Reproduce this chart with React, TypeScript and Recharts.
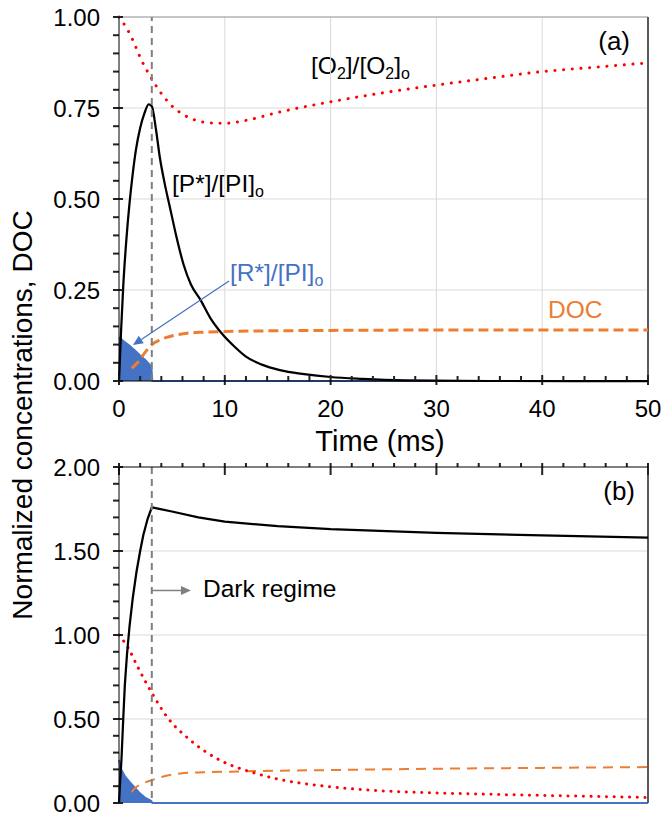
import React from 'react';
import { ComposedChart, Line, Area, XAxis, YAxis, CartesianGrid, ReferenceLine } from 'recharts';

// ---- panel (a) ----
const aPT = [0, 0.2, 0.4, 0.7, 1.0, 1.3, 1.6, 2.0, 2.4, 2.8, 3.1, 3.5, 3.85, 4.3, 4.8, 5.4, 6.1, 6.8, 7.7, 8.7, 9.7, 11, 12, 13.5, 15.2, 17.5, 20, 23, 27, 35, 50];
const aPV = [0, 0.14, 0.26, 0.39, 0.49, 0.57, 0.635, 0.695, 0.735, 0.76, 0.755, 0.69, 0.616, 0.545, 0.479, 0.4, 0.32, 0.265, 0.223, 0.17, 0.131, 0.092, 0.067, 0.045, 0.03, 0.019, 0.011, 0.006, 0.002, 0, 0];

const aOT = [0, 0.33, 1, 2.2, 3.1, 4, 5.1, 6.2, 7.4, 8.6, 10, 12, 15.2, 20, 25, 30, 35, 40, 45, 50];
const aOV = [1.0, 0.987, 0.955, 0.877, 0.83, 0.79, 0.753, 0.73, 0.715, 0.709, 0.708, 0.716, 0.739, 0.767, 0.792, 0.813, 0.832, 0.85, 0.862, 0.874];

// DOC is hidden under the R* fill near t = 0, so only the visible part is listed
const aDT = [1.2, 1.8, 2.5, 3.1, 3.8, 4.5, 5.5, 6.7, 8, 10, 15, 20, 30, 40, 50];
const aDV = [0.035, 0.052, 0.08, 0.1, 0.112, 0.12, 0.127, 0.132, 0.134, 0.136, 0.138, 0.139, 0.14, 0.14, 0.14];

const aRT = [0, 0.5, 1, 1.5, 2, 2.5, 3.05, 3.15, 50];
const aRV = [0.12, 0.108, 0.097, 0.084, 0.07, 0.057, 0.04, 0, 0];

// ---- panel (b) ----
const bPT = [0, 0.1, 0.23, 0.4, 0.55, 0.75, 1.0, 1.3, 1.65, 2.0, 2.3, 2.7, 3.1, 5, 7.5, 10, 15, 20, 30, 40, 50];
const bPV = [0, 0.12, 0.256, 0.5, 0.7, 0.88, 1.055, 1.22, 1.375, 1.5, 1.595, 1.69, 1.76, 1.735, 1.7, 1.675, 1.648, 1.63, 1.608, 1.593, 1.58];

const bOT = [0, 0.85, 1.8, 3.1, 4.5, 6.7, 9.5, 12.4, 15.2, 19.5, 25, 30, 35, 40, 45, 50];
const bOV = [1.0, 0.925, 0.806, 0.656, 0.516, 0.376, 0.256, 0.186, 0.14, 0.1, 0.072, 0.06, 0.052, 0.045, 0.039, 0.033];

const bDT = [1.2, 1.5, 2.2, 3.1, 4.2, 5.8, 8, 10, 15, 20, 30, 40, 50];
const bDV = [0.065, 0.088, 0.115, 0.136, 0.158, 0.176, 0.183, 0.186, 0.192, 0.196, 0.204, 0.209, 0.214];

const bRT = [0, 0.23, 0.6, 1.0, 1.5, 2.0, 2.5, 3.05, 3.15, 50];
const bRV = [0.256, 0.196, 0.155, 0.126, 0.09, 0.056, 0.03, 0.012, 0, 0];

// ---- axes ----
const xTicks = [0, 2, 4, 6, 8, 10, 12, 14, 16, 18, 20, 22, 24, 26, 28, 30, 32, 34, 36, 38, 40, 42, 44, 46, 48, 50];
const xLabels = [0, 10, 20, 30, 40, 50];
const xGrid = [10, 20, 30, 40];
const aYTicks = [0, 0.05, 0.1, 0.15, 0.2, 0.25, 0.3, 0.35, 0.4, 0.45, 0.5, 0.55, 0.6, 0.65, 0.7, 0.75, 0.8, 0.85, 0.9, 0.95, 1];
const aYLabels = [0, 0.25, 0.5, 0.75, 1];
const bYTicks = [0, 0.1, 0.2, 0.3, 0.4, 0.5, 0.6, 0.7, 0.8, 0.9, 1, 1.1, 1.2, 1.3, 1.4, 1.5, 1.6, 1.7, 1.8, 1.9, 2];
const bYLabels = [0, 0.5, 1, 1.5, 2];
const darkStart = 3.1;

const FONT = '"Liberation Sans", Arial, sans-serif';
const BLUE = '#4472c4';
const ORANGE = '#ed7d31';
const RED = '#ff0000';
const TW = 2;

const pts = (ts: number[], vs: number[]) => ts.map((t, i) => ({ t, v: vs[i] }));
const has = (list: number[], v: number) => list.some((m) => Math.abs(m - v) < 1e-6);

const XLabel = (props: any) => {
  const { x, y, payload } = props;
  return (
    <text x={x} y={y + 36} textAnchor="middle" fontSize={24} fontFamily={FONT} fill="#000">
      {payload.value}
    </text>
  );
};

const YLabel = (props: any) => {
  const { x, y, payload } = props;
  return (
    <text x={x - 19} y={y + 8.5} textAnchor="end" fontSize={24} fontFamily={FONT} fill="#000">
      {payload.value.toFixed(2)}
    </text>
  );
};

// tick marks: short stubs at the axis, taken from the reference-line geometry
const vTick = (up: number, down: number, atTop: boolean) => (p: any) => {
  const y0 = atTop ? Math.min(p.y1, p.y2) : Math.max(p.y1, p.y2);
  return <path d={`M${p.x1},${y0 - up}L${p.x1},${y0 + down}`} stroke="#222" strokeWidth={TW} fill="none" />;
};
const hTick = (right: number) => (p: any) => {
  const x0 = Math.min(p.x1, p.x2);
  return <path d={`M${x0 - 6},${p.y1}L${x0 + right},${p.y1}`} stroke="#222" strokeWidth={TW} fill="none" />;
};
const xMajorBottom = vTick(6, 4, false);
const xMinorBottom = vTick(5, 0, false);
const xMajorTop = vTick(4, 8, true);
const xMinorTop = vTick(4, 0, true);
const yMajor = hTick(4);
const yMinor = hTick(0);

const arrowShape = (color: string, w: number) => (p: any) => {
  const { x1, y1, x2, y2 } = p;
  const ang = Math.atan2(y2 - y1, x2 - x1);
  const L = 10;
  const W = 4.5;
  const bx = x2 - L * Math.cos(ang);
  const by = y2 - L * Math.sin(ang);
  const px = -Math.sin(ang) * W;
  const py = Math.cos(ang) * W;
  return (
    <g>
      <line x1={x1} y1={y1} x2={bx} y2={by} stroke={color} strokeWidth={w} />
      <polygon points={`${x2},${y2} ${bx + px},${by + py} ${bx - px},${by - py}`} fill={color} />
    </g>
  );
};
const blueArrow = arrowShape(BLUE, 1.25);
const grayArrow = arrowShape('#7f7f7f', 1.5);

export default function App() {
  return (
    <div style={{ position: 'absolute', left: 0, top: 0, width: 664, height: 815, fontFamily: FONT }}>
      {/* text layer sits underneath the charts */}
      <svg width={664} height={815} style={{ position: 'absolute', left: 0, top: 0 }} fontFamily={FONT}>
        <text x={22} y={415} transform="rotate(-90 22 415)" textAnchor="middle" dominantBaseline="central" fontSize={28} fill="#000">
          Normalized concentrations, DOC
        </text>
        <text x={380} y={451} textAnchor="middle" fontSize={29} fill="#000">Time (ms)</text>
        <text x={630} y={50} textAnchor="end" fontSize={26} fill="#000">(a)</text>
        <text x={635} y={500} textAnchor="end" fontSize={26} fill="#000">(b)</text>
        <text x={311} y={74} fontSize={24.5} fill="#000">
          [O<tspan fontSize={16} dy={5}>2</tspan><tspan dy={-5}>]/[O</tspan><tspan fontSize={16} dy={5}>2</tspan><tspan dy={-5}>]</tspan><tspan fontSize={16} dy={5}>o</tspan>
        </text>
        <text x={172} y={192} fontSize={24.5} fill="#000">
          [P*]/[PI]<tspan fontSize={16} dy={5}>o</tspan>
        </text>
        <text x={230} y={281} fontSize={24.5} fill={BLUE}>
          [R*]/[PI]<tspan fontSize={16} dy={5}>o</tspan>
        </text>
        <text x={548} y={318} fontSize={24.5} fill={ORANGE}>DOC</text>
        <text x={203} y={597} fontSize={24.5} fill="#000">Dark regime</text>
      </svg>
      <div style={{ position: 'absolute', left: 0, top: 0 }}>
        <ComposedChart width={664} height={440} margin={{ top: 17, right: 16, bottom: 0, left: 0 }}>
          <CartesianGrid horizontalValues={[0.25, 0.5, 0.75]} verticalValues={xGrid} stroke="#d9d9d9" />
          <XAxis dataKey="t" type="number" domain={[0, 50]} ticks={xLabels} interval={0} height={59}
            tickSize={0} tickMargin={0} tickLine={false} tick={XLabel} axisLine={{ stroke: '#000' }} />
          <YAxis type="number" domain={[0, 1]} ticks={aYLabels} interval={0} width={119}
            tickSize={0} tickMargin={0} tickLine={false} tick={YLabel} axisLine={{ stroke: '#000' }} />
          <ReferenceLine y={1} stroke="#8c8c8c" />
          <ReferenceLine x={50} stroke="#595959" strokeWidth={2} />
          <Line data={pts(aDT, aDV)} dataKey="v" type="monotone" stroke={ORANGE} strokeWidth={3} strokeDasharray="10 5" dot={false} activeDot={false} isAnimationActive={false} />
          <Area data={pts(aRT, aRV)} dataKey="v" type="linear" fill={BLUE} fillOpacity={1} stroke={BLUE} strokeWidth={2} isAnimationActive={false} dot={false} activeDot={false} />
          <Line data={pts(aOT, aOV)} dataKey="v" type="monotone" stroke={RED} strokeWidth={3} strokeDasharray="0.1 8.6" strokeLinecap="round" dot={false} activeDot={false} isAnimationActive={false} />
          <Line data={pts(aPT, aPV)} dataKey="v" type="monotone" stroke="#000" strokeWidth={2.25} dot={false} activeDot={false} isAnimationActive={false} />
          <ReferenceLine x={darkStart} stroke="#7f7f7f" strokeWidth={2} strokeDasharray="7 5" />
          <ReferenceLine segment={[{ x: 10.4, y: 0.275 }, { x: 1.32, y: 0.099 }]} shape={blueArrow} />
          {xTicks.map((v) => (
            <ReferenceLine key={`ax${v}`} x={v} shape={has(xLabels, v) ? xMajorBottom : xMinorBottom} />
          ))}
          {aYTicks.map((v) => (
            <ReferenceLine key={`ay${v}`} y={v} shape={has(aYLabels, v) ? yMajor : yMinor} />
          ))}
        </ComposedChart>
      </div>
      <div style={{ position: 'absolute', left: 0, top: 440 }}>
        <ComposedChart width={664} height={375} margin={{ top: 0, right: 16, bottom: 12, left: 0 }}>
          <CartesianGrid horizontalValues={[0.5, 1, 1.5]} verticalValues={xGrid} stroke="#d9d9d9" />
          <XAxis dataKey="t" type="number" orientation="top" domain={[0, 50]} ticks={xLabels} interval={0} height={27}
            tickSize={0} tickLine={false} tick={false} axisLine={{ stroke: '#000' }} />
          <YAxis type="number" domain={[0, 2]} ticks={bYLabels} interval={0} width={119}
            tickSize={0} tickMargin={0} tickLine={false} tick={YLabel} axisLine={{ stroke: '#000' }} />
          <ReferenceLine x={50} stroke="#595959" strokeWidth={2} />
          <Line data={pts(bDT, bDV)} dataKey="v" type="monotone" stroke={ORANGE} strokeWidth={2} strokeDasharray="10 7" dot={false} activeDot={false} isAnimationActive={false} />
          <Area data={pts(bRT, bRV)} dataKey="v" type="linear" fill={BLUE} fillOpacity={1} stroke={BLUE} strokeWidth={2} isAnimationActive={false} dot={false} activeDot={false} />
          <Line data={pts(bOT, bOV)} dataKey="v" type="monotone" stroke={RED} strokeWidth={3} strokeDasharray="0.1 7.6" strokeLinecap="round" dot={false} activeDot={false} isAnimationActive={false} />
          <Line data={pts(bPT, bPV)} dataKey="v" type="linear" stroke="#000" strokeWidth={2.25} dot={false} activeDot={false} isAnimationActive={false} />
          <ReferenceLine x={darkStart} stroke="#7f7f7f" strokeWidth={2} strokeDasharray="7 5" />
          <ReferenceLine segment={[{ x: darkStart, y: 1.265 }, { x: 6.8, y: 1.265 }]} shape={grayArrow} />
          {xTicks.map((v) => (
            <ReferenceLine key={`bx${v}`} x={v} shape={has(xLabels, v) ? xMajorTop : xMinorTop} />
          ))}
          {bYTicks.map((v) => (
            <ReferenceLine key={`by${v}`} y={v} shape={has(bYLabels, v) ? yMajor : yMinor} />
          ))}
        </ComposedChart>
      </div>
    </div>
  );
}
